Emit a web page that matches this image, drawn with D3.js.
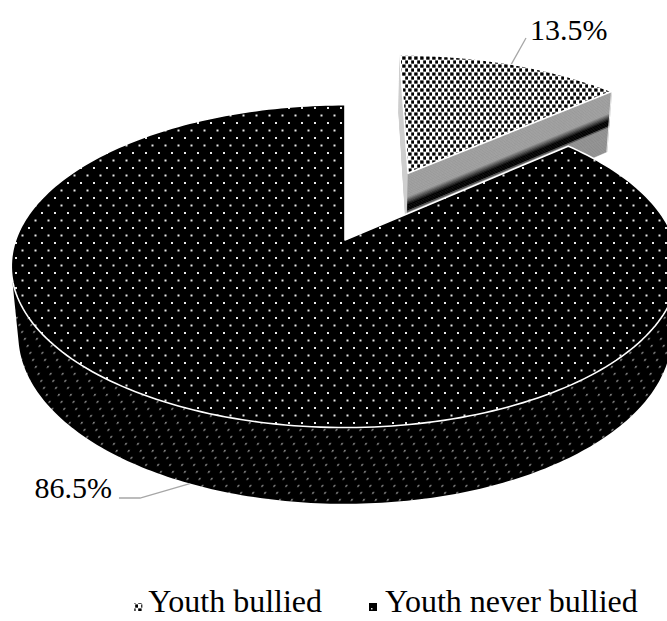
<!DOCTYPE html>
<html>
<head>
<meta charset="utf-8">
<script src="https://cdn.jsdelivr.net/npm/d3@7"></script>
<style>
  html, body { margin: 0; padding: 0; background: #fff; }
  svg { display: block; }
  text { font-family: "Liberation Serif", "Times New Roman", serif; fill: #000; }
</style>
</head>
<body>
<div id="chart"></div>
<script>
// Share of youth who were bullied vs. never bullied
const categories = ["Youth bullied", "Youth never bullied"];
const values = [13.5, 86.5];
const valueLabels = ["13.5%", "86.5%"];

const W = 667, H = 621;

// 3D pie camera / geometry settings
const cx = 345, cy = 240;           // screen position of the pie centre
const tilt = 28.5 * Math.PI / 180;  // viewing elevation
const camDist = 5.42;               // camera distance (in pie radii)
const focal = 1785;                 // focal length (px per radius at unit depth)
const depth = 0.24;                 // thickness of the pie (in radii)
const explode = [0.5, 0];           // radial pull-out of each slice

const sinT = Math.sin(tilt), cosT = Math.cos(tilt);
function project(X, Y, Z) {
  const d = camDist + Z * cosT - Y * sinT;
  const s = focal / d;
  return [cx + X * s, cy - (Z * sinT + Y * cosT) * s];
}
const cam = [0, camDist * sinT, -camDist * cosT];

const svg = d3.select("#chart").append("svg")
  .attr("width", W).attr("height", H)
  .attr("viewBox", `0 0 ${W} ${H}`);

// ---- fill patterns ----
const defs = svg.append("defs");

const pTop = defs.append("pattern").attr("id", "dotsTop")
  .attr("patternUnits", "userSpaceOnUse").attr("width", 13).attr("height", 15);
pTop.append("rect").attr("width", 13).attr("height", 15).attr("fill", "#000");
pTop.append("rect").attr("x", 2).attr("y", 2).attr("width", 2).attr("height", 2).attr("fill", "#e8e8e8");
pTop.append("rect").attr("x", 8.5).attr("y", 9.5).attr("width", 2).attr("height", 2).attr("fill", "#e8e8e8");

const pSide = defs.append("pattern").attr("id", "dotsSide")
  .attr("patternUnits", "userSpaceOnUse").attr("width", 12).attr("height", 14)
  .attr("patternTransform", "skewX(-25)");
pSide.append("rect").attr("width", 12).attr("height", 14).attr("fill", "#000");
pSide.append("rect").attr("x", 2).attr("y", 2).attr("width", 1.8).attr("height", 1.8).attr("fill", "#9a9a9a");
pSide.append("rect").attr("x", 8).attr("y", 9).attr("width", 1.8).attr("height", 1.8).attr("fill", "#9a9a9a");

const pLight = defs.append("pattern").attr("id", "dotsLight")
  .attr("patternUnits", "userSpaceOnUse").attr("width", 6).attr("height", 8);
pLight.append("rect").attr("width", 6).attr("height", 8).attr("fill", "#fff");
pLight.append("rect").attr("x", 0.2).attr("y", 0.4).attr("width", 3.4).attr("height", 3.3).attr("fill", "#000");
pLight.append("rect").attr("x", 3.2).attr("y", 4.4).attr("width", 3.4).attr("height", 3.3).attr("fill", "#000");

const topFill = ["url(#dotsLight)", "url(#dotsTop)"];
const sideFill = ["#9c9c9c", "url(#dotsSide)"];

// ---- slice geometry ----
const arcs = d3.pie().sort(null).value(d => d)(values);
const line = d3.line();

function sliceGeom(a, i) {
  const mid = (a.startAngle + a.endAngle) / 2;
  const ox = explode[i] * Math.sin(mid), oz = explode[i] * Math.cos(mid);
  const P = (th, r, Y) => [ox + r * Math.sin(th), Y, oz + r * Math.cos(th)];
  return { a, i, mid, ox, oz, P };
}

function arcPoints(g, t0, t1, Y, n) {
  const pts = [];
  for (let k = 0; k <= n; k++) {
    const th = t0 + (t1 - t0) * k / n;
    pts.push(project(...g.P(th, 1, Y)));
  }
  return pts;
}

function facing(p, n) {
  return (cam[0] - p[0]) * n[0] + (cam[1] - p[1]) * n[1] + (cam[2] - p[2]) * n[2] > 0;
}

// colour profile down the cut face of the pulled-out slice
function cutColor(t) {
  if (t < 0.36) return "#9c9c9c";
  if (t < 0.48) return d3.interpolateRgb("#9c9c9c", "#0a0a0a")((t - 0.36) / 0.12);
  if (t < 0.57) return "#000";
  if (t < 0.60) return d3.interpolateRgb("#000", "#8e8e8e")((t - 0.57) / 0.03);
  return "#8e8e8e";
}

function drawSlice(g) {
  const grp = svg.append("g").attr("class", "slice slice-" + g.i);
  const a = g.a;

  // radial cut faces
  [[a.startAngle, -1], [a.endAngle, 1]].forEach(([th, sgn]) => {
    const n = [sgn * Math.cos(th), 0, -sgn * Math.sin(th)];
    const p = g.P(th, 0.5, 0);
    if (!facing(p, n)) return;
    const isEnd = sgn > 0;
    const N = 40;
    for (let k = 0; k < N; k++) {
      const t0 = k / N, t1 = (k + 1) / N;
      const quad = [
        project(...g.P(th, 0, -depth * t0)),
        project(...g.P(th, 1, -depth * t0)),
        project(...g.P(th, 1, -depth * t1)),
        project(...g.P(th, 0, -depth * t1))
      ];
      const c = isEnd ? cutColor((t0 + t1) / 2) : "#cfcfcf";
      grp.append("path").attr("d", line(quad) + "Z")
        .attr("fill", c).attr("stroke", c).attr("stroke-width", 0.6);
    }
    if (isEnd) {
      grp.append("path")
        .attr("d", line([project(...g.P(th, 1, 0)), project(...g.P(th, 1, -depth))]))
        .attr("stroke", "#e8e8e8").attr("stroke-width", 1).attr("fill", "none");
    }
  });

  // outer rim: keep only the part turned towards the camera
  const n = 240, runs = [];
  let cur = null;
  for (let k = 0; k <= n; k++) {
    const th = a.startAngle + (a.endAngle - a.startAngle) * k / n;
    const p = g.P(th, 1, 0);
    const vis = facing(p, [Math.sin(th), 0, Math.cos(th)]);
    if (vis) { if (!cur) { cur = [th, th]; runs.push(cur); } cur[1] = th; }
    else cur = null;
  }
  runs.forEach(([t0, t1]) => {
    const top = arcPoints(g, t0, t1, 0, 160);
    const bot = arcPoints(g, t1, t0, -depth, 160);
    grp.append("path").attr("d", line(top.concat(bot)) + "Z")
      .attr("fill", sideFill[g.i]);
  });

  // top face
  const centre = project(...g.P(0, 0, 0));
  const rim = arcPoints(g, a.startAngle, a.endAngle, 0, 240);
  grp.append("path").attr("d", line([centre].concat(rim)) + "Z")
    .attr("fill", topFill[g.i])
    .attr("stroke", "#fff").attr("stroke-width", 1.6).attr("stroke-linejoin", "round");
}

const geoms = arcs.map((a, i) => sliceGeom(a, i));
// farther slice first, so the large slice covers it
geoms.slice().sort((p, q) => q.oz - p.oz).forEach(drawSlice);

// ---- data labels with leader lines ----
const leader = "#a6a6a6";
{
  const g = geoms[0];
  const end = project(...g.P(g.mid, 1, 0));
  svg.append("path").attr("d", line([end, [526, 38]]))
    .attr("stroke", leader).attr("stroke-width", 1.3).attr("fill", "none");
  svg.append("text").attr("x", 530).attr("y", 40)
    .attr("font-size", 30).text(valueLabels[0]);
}
{
  const g = geoms[1];
  const end = project(...g.P(g.mid, 1, -depth));
  svg.append("path").attr("d", line([end, [140, 498], [119, 498]]))
    .attr("stroke", leader).attr("stroke-width", 1.3).attr("fill", "none");
  svg.append("text").attr("x", 112).attr("y", 498).attr("text-anchor", "end")
    .attr("font-size", 30).text(valueLabels[1]);
}

// ---- legend ----
const legend = svg.append("g").attr("class", "legend");
const legendY = 612, fs = 32;
const item2 = legend.append("g");
item2.append("rect").attr("x", 369).attr("y", legendY - 9).attr("width", 8).attr("height", 8)
  .attr("fill", "#000");
item2.append("rect").attr("x", 371).attr("y", legendY - 4).attr("width", 1.5).attr("height", 1.5)
  .attr("fill", "#ddd");
item2.append("text").attr("x", 385).attr("y", legendY).attr("font-size", fs).text(categories[1]);

const item1 = legend.append("g");
const t1 = item1.append("text").attr("x", 322).attr("y", legendY).attr("text-anchor", "end")
  .attr("font-size", fs).text(categories[0]);
const w1 = t1.node().getComputedTextLength();
const m1x = 322 - w1 - 14;
item1.append("rect").attr("x", m1x).attr("y", legendY - 9).attr("width", 8).attr("height", 8)
  .attr("fill", "url(#dotsLight)");
</script>
</body>
</html>
